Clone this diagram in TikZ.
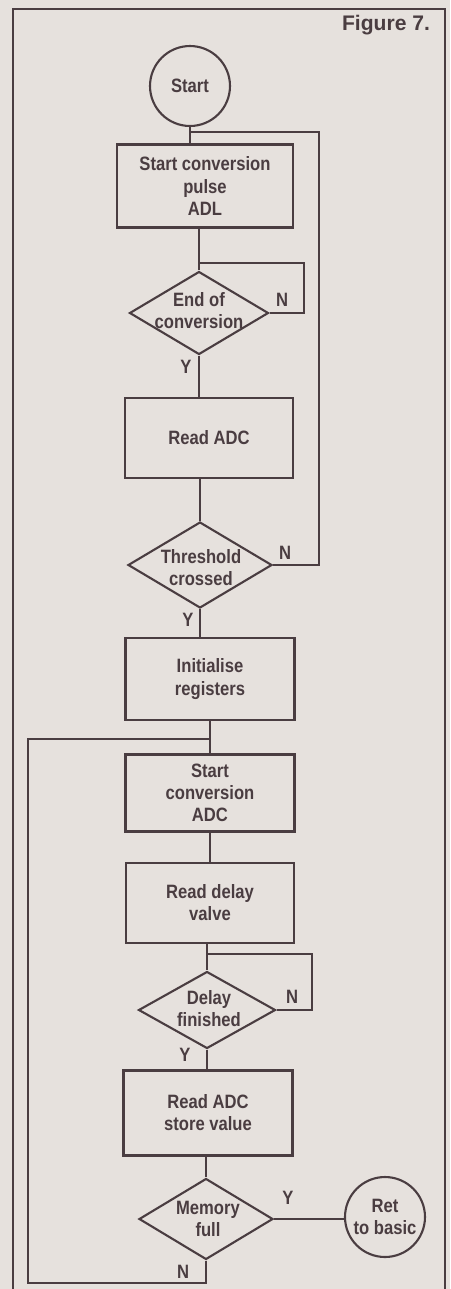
\documentclass[tikz,border=0pt]{standalone}
\usepackage{fontspec}
\setmainfont{Liberation Sans}[FakeStretch=0.86]
\newfontfamily\figfont{Liberation Sans}
\usetikzlibrary{shapes.geometric}

\definecolor{paper}{HTML}{E6E1DD}
\definecolor{ink}{HTML}{4A3D41}

\tikzset{
  box/.style = {rectangle, draw, align=center, inner sep=0pt, minimum width=3.36cm},
  decision/.style = {diamond, draw, inner sep=0pt},
  dtext/.style = {align=center, inner sep=0pt},
  terminal/.style = {circle, draw, align=center, inner sep=0pt, minimum size=1.6cm},
  yn/.style = {inner sep=0pt}
}

\begin{document}
\begin{tikzpicture}[x=0.02cm, y=-0.02cm, line width=1.2pt, color=ink,
                    font=\fontsize{11}{12.6}\selectfont\bfseries]

            % \draw [help lines] (0,0) grid (450,1289);
            \useasboundingbox (0,0) rectangle (450,1289);
            \fill [paper] (0,0) rectangle (450,1289);

            % frame, open at the bottom
            \draw (13,1289) -- (13,9) -- (445,9) -- (445,1289);
            \node (fig) [anchor=east, inner sep=0pt, font=\figfont\fontsize{12}{14}\selectfont\bfseries] at (431,25) {Figure 7.};

            \path   (190,86)    node (a) [terminal] {Start}
                    (205,186)   node (b) [box, minimum width=3.52cm, minimum height=1.66cm] {Start conversion\\pulse\\ADL}
                    (199,313)   node (c) [decision, minimum width=2.78cm, minimum height=1.66cm] {}
                    (199,311)   node (ct) [dtext] {End of\\conversion}
                    (209,438)   node (d) [box, minimum height=1.6cm] {Read ADC}
                    (200,565)   node (e) [decision, minimum width=2.88cm, minimum height=1.72cm] {}
                    (201,568)   node (et) [dtext] {Threshold\\crossed}
                    (210,679)   node (f) [box, minimum width=3.38cm, minimum height=1.64cm] {Initialise\\registers}
                    (210,793)   node (g) [box, minimum width=3.38cm, minimum height=1.54cm] {Start\\conversion\\ADC}
                    (210,903)   node (h) [box, minimum height=1.6cm] {Read delay\\valve}
                    (207,1010)  node (i) [decision, minimum width=2.74cm, minimum height=1.54cm] {}
                    (209,1009)  node (it) [dtext] {Delay\\finished}
                    (208,1113)  node (j) [box, minimum width=3.38cm, minimum height=1.7cm] {Read ADC\\store value}
                    (206,1219)  node (k) [decision, minimum width=2.68cm, minimum height=1.62cm] {}
                    (208,1219)  node (kt) [dtext] {Memory\\full}
                    (385,1217)  node (l) [terminal] {Ret\\to basic};

            % corners of the loops
            \coordinate (p) at (319,132);
            \coordinate (q) at (304,263);
            \coordinate (r) at (312,954);
            \coordinate (s) at (28,1283);
            \coordinate (t) at (28,739);

            % main line
            \draw (a) -- (a |- b.north);
            \draw (c |- b.south) -- (c.north);
            \draw (c.south) -- (c |- d.north);
            \draw (e |- d.south) -- (e.north);
            \draw (e.south) -- (e |- f.north);
            \draw (f) -- (g);
            \draw (g) -- (h);
            \draw (i |- h.south) -- (i.north);
            \draw (i.south) -- (i |- j.north);
            \draw (k |- j.south) -- (k.north);
            \draw (k.east) -- (k.east -| l.west);

            % loops back
            \draw (e.east) -| (p) -- (p -| a);
            \draw (c.east) -| (q) -- (q -| c);
            \draw (i.east) -| (r) -- (r -| i);
            \draw (k.south) |- (s) -- (t) -- (t -| f);

            % yes / no
            \path   (186,367)   node (y1) [yn] {Y}
                    (282,300)   node (n1) [yn] {N}
                    (285,553)   node (n2) [yn] {N}
                    (188,620)   node (y2) [yn] {Y}
                    (292,997)   node (n3) [yn] {N}
                    (185,1055)  node (y3) [yn] {Y}
                    (288,1198)  node (y4) [yn] {Y}
                    (183,1272)  node (n4) [yn] {N};

\end{tikzpicture}
\end{document}
